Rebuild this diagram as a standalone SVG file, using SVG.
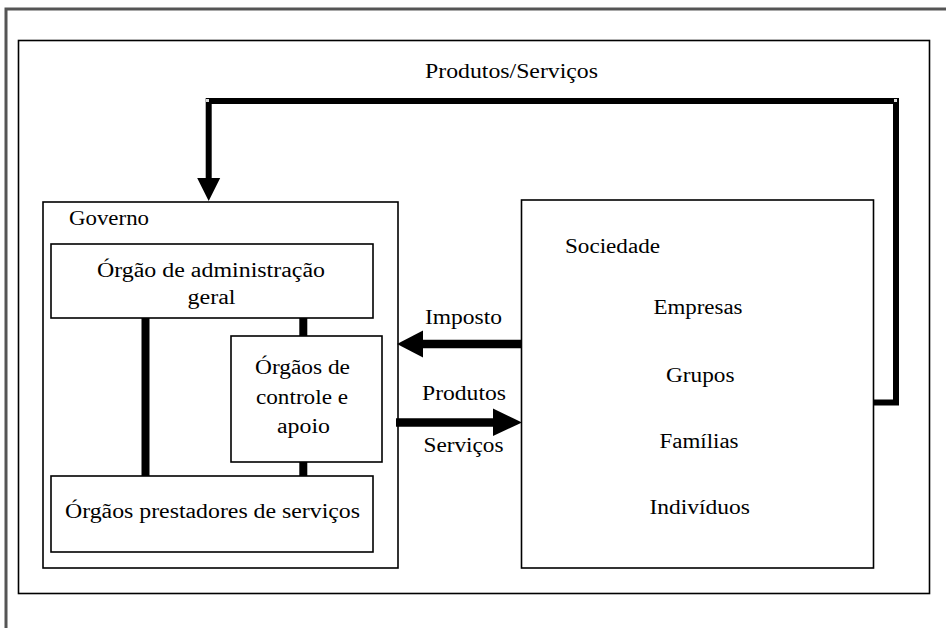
<svg xmlns="http://www.w3.org/2000/svg" width="946" height="628" viewBox="0 0 946 628" font-family="'Liberation Serif', 'Times New Roman', serif">
<style>
.box{fill:#fff;stroke:#000;stroke-width:1.6}
.t{font-family:'Liberation Serif','Times New Roman',serif;font-size:20px;fill:#000}
.thick{stroke:#000;fill:none;stroke-linecap:butt;stroke-linejoin:miter}
.head{fill:#000}
</style>
<rect x="0" y="0" width="946" height="628" fill="#fff"/>
<rect x="6" y="9" width="960" height="640" fill="none" stroke="#555" stroke-width="3"/>
<g id="frame">
<rect x="18.5" y="40.5" width="911" height="553" fill="none" stroke="#000" stroke-width="1.6"/>
</g>
<g id="top-label">
<text class="t" x="425" y="78" textLength="173" lengthAdjust="spacingAndGlyphs">Produtos/Serviços</text>
</g>
<g id="governo">
<rect class="box" x="43" y="202" width="355" height="366"/>
<text class="t" x="69" y="225" textLength="80" lengthAdjust="spacingAndGlyphs">Governo</text>
</g>
<g id="admin">
<rect class="box" x="51" y="244" width="322" height="74"/>
<text class="t" x="97" y="277" textLength="228" lengthAdjust="spacingAndGlyphs">Órgão de administração</text>
<text class="t" x="187.5" y="304" textLength="48" lengthAdjust="spacingAndGlyphs">geral</text>
</g>
<g id="controle">
<rect class="box" x="231" y="336" width="151" height="126"/>
<text class="t" x="255" y="374" textLength="95" lengthAdjust="spacingAndGlyphs">Órgãos de</text>
<text class="t" x="256" y="404" textLength="92" lengthAdjust="spacingAndGlyphs">controle e</text>
<text class="t" x="277" y="433" textLength="53" lengthAdjust="spacingAndGlyphs">apoio</text>
</g>
<g id="prestadores">
<rect class="box" x="51" y="476" width="322" height="76"/>
<text class="t" x="65" y="518" textLength="295" lengthAdjust="spacingAndGlyphs">Órgãos prestadores de serviços</text>
</g>
<g id="sociedade">
<rect class="box" x="521.5" y="200" width="352" height="368"/>
<text class="t" x="565" y="253" textLength="95" lengthAdjust="spacingAndGlyphs">Sociedade</text>
<text class="t" x="653.5" y="314" textLength="89" lengthAdjust="spacingAndGlyphs">Empresas</text>
<text class="t" x="666" y="381.5" textLength="68.5" lengthAdjust="spacingAndGlyphs">Grupos</text>
<text class="t" x="659.5" y="448" textLength="79" lengthAdjust="spacingAndGlyphs">Famílias</text>
<text class="t" x="649.5" y="514" textLength="100.5" lengthAdjust="spacingAndGlyphs">Indivíduos</text>
</g>
<g id="labels">
<text class="t" x="425" y="324" textLength="77" lengthAdjust="spacingAndGlyphs">Imposto</text>
<text class="t" x="422" y="400" textLength="84" lengthAdjust="spacingAndGlyphs">Produtos</text>
<text class="t" x="423.5" y="451.5" textLength="80" lengthAdjust="spacingAndGlyphs">Serviços</text>
</g>
<g id="connectors">
<line class="thick" x1="145.5" y1="318" x2="145.5" y2="476" stroke-width="8"/>
<line class="thick" x1="303.3" y1="318" x2="303.3" y2="336" stroke-width="8"/>
<line class="thick" x1="303.3" y1="462" x2="303.3" y2="476" stroke-width="8"/>
<line class="thick" x1="521" y1="344" x2="422" y2="344" stroke-width="8.5"/>
<polygon class="head" points="397,344 423,330.5 423,357.5"/>
<line class="thick" x1="396" y1="422.5" x2="494" y2="422.5" stroke-width="8.5"/>
<polygon class="head" points="522,422.5 493,408.5 493,436"/>
<path class="thick" d="M873.5,402.5 H896 V101 H208.7 V179" stroke-width="6"/>
<polygon class="head" points="208.7,201 197.2,178 220.2,178"/>
<rect x="206" y="99" width="3" height="3" fill="#ddd"/>
<rect x="894" y="99" width="3" height="3" fill="#ddd"/>
</g>
</svg>
